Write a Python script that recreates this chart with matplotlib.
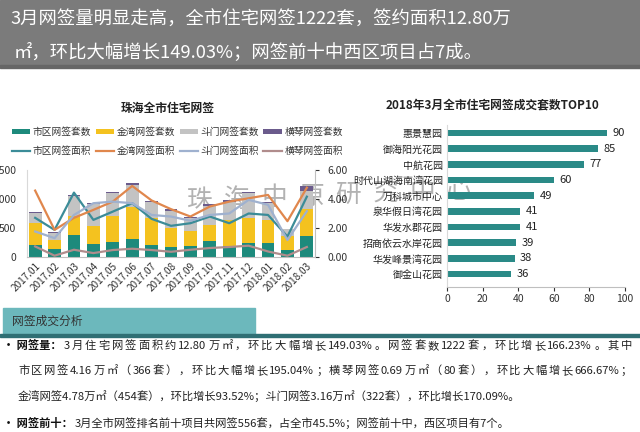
import re
import numpy as np
import matplotlib.pyplot as plt
from matplotlib.patches import Rectangle, Patch
from matplotlib.lines import Line2D

plt.rcParams['font.family'] = ['Noto Sans CJK SC', 'DejaVu Sans']

# 左图：珠海全市住宅网签（套数为柱，面积为线，万㎡）
months = ['2017.01', '2017.02', '2017.03', '2017.04', '2017.05', '2017.06', '2017.07', '2017.08',
          '2017.09', '2017.10', '2017.11', '2017.12', '2018.01', '2018.02', '2018.03']
shiqu_units = [210, 135, 385, 225, 255, 305, 205, 165, 185, 270, 195, 250, 240, 124, 366]
jinwan_units = [370, 160, 315, 315, 450, 560, 465, 335, 255, 285, 445, 420, 400, 235, 454]
doumen_units = [185, 125, 345, 375, 390, 375, 270, 300, 230, 330, 315, 430, 290, 119, 322]
hengqin_units = [15, 15, 20, 20, 25, 30, 20, 20, 25, 30, 30, 25, 25, 10, 80]

shiqu_area = [2.70, 1.87, 4.44, 2.56, 3.13, 3.71, 2.63, 2.15, 2.33, 2.79, 2.33, 3.00, 2.90, 1.41, 4.16]
jinwan_area = [4.58, 1.87, 2.70, 3.25, 3.82, 4.90, 3.90, 3.30, 2.79, 3.48, 3.82, 4.05, 4.28, 2.47, 4.78]
doumen_area = [1.76, 1.30, 2.90, 3.71, 3.82, 3.71, 2.90, 2.79, 2.50, 2.90, 3.00, 3.94, 3.60, 1.17, 3.16]
hengqin_area = [0.73, 0.09, 0.50, 0.27, 0.48, 0.57, 0.48, 0.36, 0.50, 0.62, 0.69, 0.78, 0.38, 0.09, 0.69]

bar_names = ['市区网签套数', '金湾网签套数', '斗门网签套数', '横琴网签套数']
line_names = ['市区网签面积', '金湾网签面积', '斗门网签面积', '横琴网签面积']

# 右图：TOP10
projects = ['惠景慧园', '御海阳光花园', '中航花园', '时代山湖海南湾花园', '万科城市中心',
            '泉华假日湾花园', '华发水郡花园', '招商依云水岸花园', '华发峰景湾花园', '御金山花园']
project_units = [90, 85, 77, 60, 49, 41, 41, 39, 38, 36]

header1 = '3月网签量明显走高，全市住宅网签1222套，签约面积12.80万'
header2 = '㎡，环比大幅增长149.03%；网签前十中西区项目占7成。'
# (加粗标题, 正文, 是否两端对齐)
body = [
    ('• 网签量：', '3月住宅网签面积约12.80万㎡，环比大幅增长149.03%。网签套数1222套，环比增长166.23%。其中', True),
    ('', '市区网签4.16万㎡（366套），环比大幅增长195.04%；横琴网签0.69万㎡（80套），环比大幅增长666.67%；', True),
    ('', '金湾网签4.78万㎡（454套），环比增长93.52%；斗门网签3.16万㎡（322套），环比增长170.09%。', False),
    ('• 网签前十：', '3月全市网签排名前十项目共网签556套，占全市45.5%；网签前十中，西区项目有7个。', False),
]

bar_colors = ['#1d8a7c', '#f4c21f', '#c3c3c3', '#6b5b8c']
line_colors = ['#3b8c98', '#e0874d', '#9fb1cf', '#b08c8c']

W, H = 640, 432
fig = plt.figure(figsize=(6.4, 4.32), dpi=100)
renderer = fig.canvas.get_renderer()

bg = fig.add_axes([0, 0, 1, 1])
bg.set_xlim(0, W)
bg.set_ylim(H, 0)
bg.axis('off')

# 标题栏
bg.add_patch(Rectangle((0, 0), W, 66, color='#7b7b7b', zorder=0))
bg.add_patch(Rectangle((0, 65), W, 3, color='#666666', zorder=0))
bg.text(10, 20, header1, color='white', fontsize=13.2, va='center', ha='left')
bg.text(14, 52, header2, color='white', fontsize=13.2, va='center', ha='left')

# ---- 左图 ----
ax = fig.add_axes([27 / W, 1 - 257 / H, 288 / W, 87 / H])
ax.set_facecolor('none')
x = np.arange(len(months))
bottom = np.zeros(len(months))
for vals, c, name in zip([shiqu_units, jinwan_units, doumen_units, hengqin_units], bar_colors, bar_names):
    ax.bar(x, vals, 0.66, bottom=bottom, color=c, label=name, zorder=2)
    bottom += np.array(vals)
ax.set_xlim(-0.42, 14.42)
ax.set_ylim(0, 1500)
ax.set_yticks([0, 500, 1000, 1500])
ax.tick_params(axis='y', length=0, pad=8, labelsize=7.5, colors='#333333')
ax.set_xticks(x, months, rotation=45, ha='right', rotation_mode='anchor', fontsize=7.2)
ax.tick_params(axis='x', length=0, pad=3, colors='#333333')
for s in ['top', 'right']:
    ax.spines[s].set_visible(False)
ax.spines['left'].set_color('#d9d9d9')
ax.spines['bottom'].set_color('#bfbfbf')

ax2 = ax.twinx()
ax2.set_facecolor('none')
for vals, c, name in zip([shiqu_area, jinwan_area, doumen_area, hengqin_area], line_colors, line_names):
    ax2.plot(x, vals, color=c, lw=1.6, label=name, zorder=3)
ax2.set_ylim(0, 6)
ax2.set_yticks([0, 2, 4, 6])
ax2.set_yticklabels(['%.2f' % v for v in [0, 2, 4, 6]])
ax2.tick_params(axis='y', length=3, pad=6, labelsize=7.5, colors='#333333')
for s in ['top', 'left', 'bottom']:
    ax2.spines[s].set_visible(False)
ax2.spines['right'].set_color('#bfbfbf')

bg.text(168, 108, '珠海全市住宅网签', fontsize=8.5, weight='bold', ha='center', va='center', color='#222222')

handles = []
for bc, lc, bn, ln in zip(bar_colors, line_colors, bar_names, line_names):
    handles.append(Patch(facecolor=bc, edgecolor='none', label=bn))
    handles.append(Line2D([], [], color=lc, lw=1.6, label=ln))
leg = fig.legend(handles=handles, ncol=4, loc='upper left', bbox_to_anchor=(12 / W, 1 - 127 / H),
                 frameon=False, fontsize=7, handlelength=1.9, handleheight=0.55, handletextpad=0.25,
                 columnspacing=0.45, labelspacing=0.9, borderpad=0, borderaxespad=0)
for t in leg.get_texts():
    t.set_color('#333333')

# ---- 右图 ----
ax3 = fig.add_axes([447 / W, 1 - 287 / H, 178 / W, 162 / H])
ax3.set_facecolor('none')
pos = np.arange(len(projects))[::-1]
ax3.barh(pos, project_units, height=0.42, color='#2a8a87', zorder=2)
for p, v in zip(pos, project_units):
    ax3.text(v + 3, p, str(v), va='center', ha='left', fontsize=8, color='#222222')
ax3.set_xlim(0, 100)
ax3.set_ylim(-0.83, 9.51)
ax3.set_xticks([0, 20, 40, 60, 80, 100])
ax3.set_yticks(pos, projects)
ax3.tick_params(axis='y', length=0, pad=3, labelsize=7.2, colors='#222222')
ax3.tick_params(axis='x', length=3, pad=2, labelsize=7.5, colors='#333333')
for s in ['top', 'right']:
    ax3.spines[s].set_visible(False)
ax3.spines['left'].set_color('#d9d9d9')
ax3.spines['bottom'].set_color('#bfbfbf')
bg.text(492, 105, '2018年3月全市住宅网签成交套数TOP10', fontsize=8.5, weight='bold',
        ha='center', va='center', color='#222222')

# 水印
wm = '珠海中原研究中心'
for i, ch in enumerate(wm):
    bg.text(200 + i * 37, 201 - i * 1.5, ch, fontsize=18.5, color='#999999', alpha=0.75,
            ha='center', va='center', zorder=10)

# ---- 下方文字 ----
bg.add_patch(Rectangle((3, 308), 252, 27, color='#6cb8bc', zorder=0))
bg.add_patch(Rectangle((0, 334), W, 3, color='#2f6f74', zorder=0))
bg.text(12, 321, '网签成交分析', fontsize=8.5, color='#333333', va='center', ha='left')


def justified(x0, x1, y, s, **kw):
    # 中文两端对齐：把空隙平均分到各个字之间
    tokens = re.findall(r'[0-9A-Za-z.%]+|.', s)
    texts = [bg.text(0, y, tk, va='center', ha='left', **kw) for tk in tokens]
    widths = [t.get_window_extent(renderer).width for t in texts]
    gap = (x1 - x0 - sum(widths)) / (len(tokens) - 1)
    xx = x0
    for t, w in zip(texts, widths):
        t.set_x(xx)
        xx += w + gap


body_size = 8.1
ys = [346, 371, 397, 423]
for (head, rest, just), y in zip(body, ys):
    x0 = 18
    if head:
        t = bg.text(3, y, head, fontsize=body_size, weight='bold', va='center', ha='left', color='#111111')
        x0 = 3 + t.get_window_extent(renderer).width + 2
    if just:
        justified(x0, 632, y, rest, fontsize=body_size, color='#222222')
    else:
        bg.text(x0, y, rest, fontsize=body_size, va='center', ha='left', color='#222222')

fig.savefig('out.png', dpi=100)
